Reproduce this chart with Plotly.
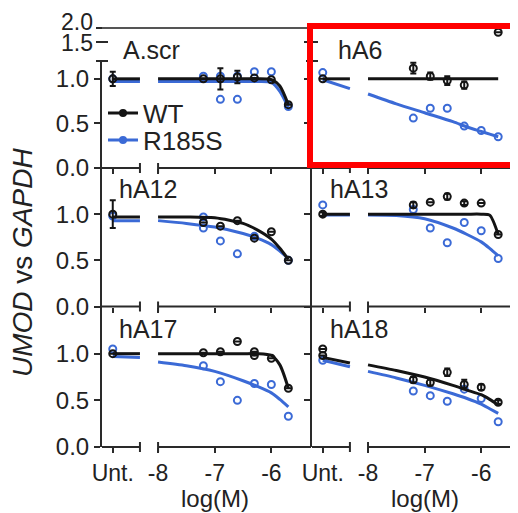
import plotly.graph_objects as go

W, H = 518, 513          # target picture size
OFF = 8                  # page body margin in front of the figure
FW, FH = W - OFF, H - OFF

# ---------------- data ----------------
PANEL_NAMES = ["A.scr", "hA6", "hA12", "hA13", "hA17", "hA18"]
CONC = [-7.2, -6.9, -6.6, -6.3, -6.0, -5.7]          # log(M) of the treatments
CURVE_X = [-8.0, -7.5, -7.0, -6.5, -6.25, -6.0, -5.85, -5.7]
X_TICK_VALS = [-8, -7, -6]
X_TICK_TEXT = ["Unt.", "-8", "-7", "-6"]
Y_TICKS = [0.0, 0.5, 1.0]
Y_TICKS_UPPER = [1.5, 2.0]
Y_TICKS_UPPER_TEXT = ["1.5", "2.0"]

# A.scr
ascr_wt_unt = [1.0]
ascr_wt_unt_err = [0.08]
ascr_wt_x = [-7.2, -6.9, -6.6, -6.3, -6.0, -5.7]
ascr_wt_y = [1.0, 1.0, 1.02, 1.01, 0.99, 0.71]
ascr_wt_err = [0.0, 0.12, 0.07, 0.0, 0.0, 0.0]
ascr_r_unt = [1.0]
ascr_r_x = [-7.2, -6.9, -6.9, -6.6, -6.6, -6.3, -6.0, -5.7]
ascr_r_y = [1.03, 1.03, 0.77, 1.03, 0.77, 1.08, 1.08, 0.69]
ascr_wt_stub = [1.0, 1.0]
ascr_wt_fit = [1.0, 1.0, 1.0, 1.0, 1.0, 0.99, 0.92, 0.71]
ascr_r_stub = [0.97, 0.97]
ascr_r_fit = [0.97, 0.97, 0.97, 0.97, 0.97, 0.96, 0.86, 0.68]

# hA6
ha6_wt_unt = [1.0]
ha6_wt_unt_err = [0.0]
ha6_wt_x = [-7.2, -6.9, -6.6, -6.3, -6.0, -5.7]
ha6_wt_y = [1.12, 1.03, 0.98, 0.93, 1.21, 1.85]
ha6_wt_err = [0.06, 0.04, 0.05, 0.04, 0.0, 0.0]
ha6_r_unt = [1.07]
ha6_r_x = [-7.2, -6.9, -6.6, -6.3, -6.0, -5.7]
ha6_r_y = [0.56, 0.67, 0.67, 0.47, 0.42, 0.35]
ha6_wt_stub = [1.0, 1.0]
ha6_wt_fit = [1.0, 1.0, 1.0, 1.0, 1.0, 1.0, 1.0, 1.0]
ha6_r_stub = [0.99, 0.89]
ha6_r_fit = [0.83, 0.72, 0.62, 0.52, 0.46, 0.41, 0.38, 0.35]

# hA12
ha12_wt_unt = [1.0]
ha12_wt_unt_err = [0.15]
ha12_wt_x = [-7.2, -6.9, -6.6, -6.3, -6.0, -5.7]
ha12_wt_y = [0.91, 0.87, 0.93, 0.74, 0.81, 0.50]
ha12_wt_err = [0.0, 0.0, 0.0, 0.0, 0.0, 0.0]
ha12_r_unt = [0.98]
ha12_r_x = [-7.2, -7.2, -6.9, -6.6, -6.3, -5.7]
ha12_r_y = [0.97, 0.85, 0.71, 0.57, 0.76, 0.50]
ha12_wt_stub = [0.97, 0.97]
ha12_wt_fit = [0.97, 0.97, 0.96, 0.90, 0.83, 0.73, 0.63, 0.51]
ha12_r_stub = [0.93, 0.93]
ha12_r_fit = [0.93, 0.90, 0.86, 0.79, 0.74, 0.67, 0.60, 0.52]

# hA13
ha13_wt_unt = [1.0]
ha13_wt_unt_err = [0.02]
ha13_wt_x = [-7.2, -6.9, -6.6, -6.3, -6.0, -5.7]
ha13_wt_y = [1.10, 1.13, 1.19, 1.12, 1.12, 0.78]
ha13_wt_err = [0.03, 0.0, 0.03, 0.02, 0.0, 0.0]
ha13_r_unt = [1.10]
ha13_r_x = [-7.2, -6.9, -6.6, -6.3, -6.0, -5.7]
ha13_r_y = [1.05, 0.85, 0.69, 0.91, 0.82, 0.52]
ha13_wt_stub = [1.0, 1.0]
ha13_wt_fit = [1.0, 1.0, 1.0, 1.0, 1.0, 1.0, 0.99, 0.78]
ha13_r_stub = [0.99, 0.99]
ha13_r_fit = [0.99, 0.985, 0.95, 0.85, 0.78, 0.70, 0.63, 0.55]

# hA17
ha17_wt_unt = [1.0]
ha17_wt_unt_err = [0.0]
ha17_wt_x = [-7.2, -6.9, -6.6, -6.3, -6.3, -6.0, -5.7]
ha17_wt_y = [1.01, 1.02, 1.13, 1.02, 0.98, 0.95, 0.63]
ha17_wt_err = [0.0, 0.0, 0.0, 0.0, 0.0, 0.0, 0.0]
ha17_r_unt = [1.05]
ha17_r_x = [-7.2, -6.9, -6.6, -6.3, -6.0, -5.7]
ha17_r_y = [0.87, 0.70, 0.50, 0.68, 0.67, 0.33]
ha17_wt_stub = [1.0, 1.0]
ha17_wt_fit = [1.0, 1.0, 1.0, 1.0, 1.0, 0.98, 0.88, 0.63]
ha17_r_stub = [0.97, 0.96]
ha17_r_fit = [0.91, 0.87, 0.81, 0.71, 0.65, 0.58, 0.51, 0.43]

# hA18
ha18_wt_unt = [1.05, 0.98]
ha18_wt_unt_err = [0.0, 0.0]
ha18_wt_x = [-7.2, -6.9, -6.6, -6.3, -6.0, -5.7]
ha18_wt_y = [0.72, 0.69, 0.80, 0.67, 0.64, 0.48]
ha18_wt_err = [0.03, 0.03, 0.04, 0.05, 0.03, 0.02]
ha18_r_unt = [0.93]
ha18_r_x = [-7.2, -6.9, -6.6, -6.3, -6.0, -5.7]
ha18_r_y = [0.60, 0.55, 0.49, 0.62, 0.52, 0.27]
ha18_wt_stub = [0.96, 0.90]
ha18_wt_fit = [0.88, 0.82, 0.75, 0.66, 0.61, 0.56, 0.51, 0.45]
ha18_r_stub = [0.93, 0.86]
ha18_r_fit = [0.81, 0.74, 0.66, 0.57, 0.52, 0.46, 0.41, 0.36]

PANELS = [
    (ascr_wt_unt, ascr_wt_unt_err, ascr_wt_x, ascr_wt_y, ascr_wt_err, ascr_r_unt, ascr_r_x, ascr_r_y,
     ascr_wt_stub, ascr_wt_fit, ascr_r_stub, ascr_r_fit),
    (ha6_wt_unt, ha6_wt_unt_err, ha6_wt_x, ha6_wt_y, ha6_wt_err, ha6_r_unt, ha6_r_x, ha6_r_y,
     ha6_wt_stub, ha6_wt_fit, ha6_r_stub, ha6_r_fit),
    (ha12_wt_unt, ha12_wt_unt_err, ha12_wt_x, ha12_wt_y, ha12_wt_err, ha12_r_unt, ha12_r_x, ha12_r_y,
     ha12_wt_stub, ha12_wt_fit, ha12_r_stub, ha12_r_fit),
    (ha13_wt_unt, ha13_wt_unt_err, ha13_wt_x, ha13_wt_y, ha13_wt_err, ha13_r_unt, ha13_r_x, ha13_r_y,
     ha13_wt_stub, ha13_wt_fit, ha13_r_stub, ha13_r_fit),
    (ha17_wt_unt, ha17_wt_unt_err, ha17_wt_x, ha17_wt_y, ha17_wt_err, ha17_r_unt, ha17_r_x, ha17_r_y,
     ha17_wt_stub, ha17_wt_fit, ha17_r_stub, ha17_r_fit),
    (ha18_wt_unt, ha18_wt_unt_err, ha18_wt_x, ha18_wt_y, ha18_wt_err, ha18_r_unt, ha18_r_x, ha18_r_y,
     ha18_wt_stub, ha18_wt_fit, ha18_r_stub, ha18_r_fit),
]

# ---------------- layout geometry ----------------
UNT_POS = -8.8          # where "Unt." sits on the broken axis
BREAK_LO = -8.32        # end of the first x segment
BREAK_HI = -8.0         # start of the second x segment
FONT = "Liberation Sans, Arial, sans-serif"
BLACK = "#141414"
BLUE = "#3b6ad6"
AXC = "#2a2a2a"
TXT = "#222222"
TICK_SIZE = 24
XTICK_SIZE = 23

def px_x(p):
    return (p - OFF) / FW

def px_y(p):
    return 1 - (p - OFF) / FH

COL_DOM = [(px_x(102), px_x(311)), (px_x(312), 1.0)]
COL_RANGE = [(-8.99, -5.30), (-8.99, -5.35)]
ROW_DOM = [(px_y(168), px_y(61)), (px_y(306.5), px_y(168)), (px_y(447), px_y(307))]
ROW_RANGE = [(0, 1.2), (0, 1.5), (0, 1.5)]
UPPER_DOM = (px_y(42), px_y(28))
UPPER_SPLIT = 1.35

fig = go.Figure()
layout = {}
shapes = []
annotations = []

for k in range(6):
    row, col = divmod(k, 2)
    ax = k + 1
    xn, yn = f"x{ax}", f"y{ax}"
    (wt_unt, wt_unt_err, wt_x, wt_y, wt_err, r_unt, r_x, r_y,
     wt_stub, wt_fit, r_stub, r_fit) = PANELS[k]

    layout[f"xaxis{ax}"] = dict(
        domain=list(COL_DOM[col]), range=list(COL_RANGE[col]), anchor=yn, automargin=False,
        showline=False, showgrid=False, zeroline=False,
        ticks="outside", ticklen=5, tickwidth=2, tickcolor=AXC,
        tickvals=[UNT_POS] + X_TICK_VALS, ticktext=X_TICK_TEXT,
        showticklabels=(row == 2), tickfont=dict(family=FONT, size=XTICK_SIZE, color=TXT),
    )
    layout[f"yaxis{ax}"] = dict(
        domain=list(ROW_DOM[row]), range=list(ROW_RANGE[row]), anchor=xn, automargin=False,
        showline=True, linewidth=2, linecolor=AXC, showgrid=False, zeroline=False,
        ticks="outside", ticklen=6, tickwidth=2, tickcolor=AXC,
        tickvals=Y_TICKS, tickformat=".1f",
        showticklabels=(col == 0), tickfont=dict(family=FONT, size=TICK_SIZE, color=TXT),
    )

    # upper (broken) y segment for the top row
    upper_name = None
    if row == 0:
        uy = 7 + col
        upper_name = f"y{uy}"
        layout[f"yaxis{uy}"] = dict(
            domain=list(UPPER_DOM), range=[1.5, 2.0], anchor=xn, automargin=False,
            showline=True, linewidth=2, linecolor=AXC, showgrid=False, zeroline=False,
            ticks="outside", ticklen=6, tickwidth=2, tickcolor=AXC,
            tickvals=Y_TICKS_UPPER, showticklabels=False,
        )
        if col == 0:
            # the two labels of the squeezed segment sit slightly apart, as in the original
            for tt, cy in zip(Y_TICKS_UPPER_TEXT, (43, 22)):
                annotations.append(dict(text=tt, xref="paper", yref="paper", x=COL_DOM[0][0] - 8 / FW,
                                        y=px_y(cy), xanchor="right", yanchor="middle", showarrow=False,
                                        borderpad=0, font=dict(family=FONT, size=23, color=TXT)))

    # fitted curves (stub before the break, gap, main segment)
    curve_x = [UNT_POS, BREAK_LO, None] + CURVE_X
    fig.add_trace(go.Scatter(x=curve_x, y=r_stub + [None] + r_fit, xaxis=xn, yaxis=yn,
                             mode="lines", line=dict(color=BLUE, width=3, shape="spline", smoothing=0.7),
                             connectgaps=False, showlegend=False, hoverinfo="skip"))
    fig.add_trace(go.Scatter(x=[UNT_POS] * len(r_unt) + r_x, y=r_unt + r_y, xaxis=xn, yaxis=yn,
                             mode="markers", cliponaxis=False,
                             marker=dict(symbol="circle-open", size=7, color=BLUE, line=dict(width=2)),
                             showlegend=False))
    fig.add_trace(go.Scatter(x=curve_x, y=wt_stub + [None] + wt_fit, xaxis=xn, yaxis=yn,
                             mode="lines", line=dict(color=BLACK, width=3, shape="spline", smoothing=0.7),
                             connectgaps=False, showlegend=False, hoverinfo="skip"))

    px_all = [UNT_POS] * len(wt_unt) + wt_x
    py_all = wt_unt + wt_y
    pe_all = wt_unt_err + wt_err
    lo = [(a, b, e) for a, b, e in zip(px_all, py_all, pe_all) if upper_name is None or b < UPPER_SPLIT]
    hi = [(a, b, e) for a, b, e in zip(px_all, py_all, pe_all) if upper_name is not None and b >= UPPER_SPLIT]
    for pts, yaxis_name in ((lo, yn), (hi, upper_name)):
        if not pts:
            continue
        fig.add_trace(go.Scatter(
            x=[p[0] for p in pts], y=[p[1] for p in pts], xaxis=xn, yaxis=yaxis_name,
            mode="markers", cliponaxis=False,
            marker=dict(symbol="circle-open", size=7, color=BLACK, line=dict(width=2)),
            error_y=dict(type="data", array=[p[2] for p in pts], color=BLACK, thickness=2, width=3),
            showlegend=False))

    # broken x-axis line: two segments with end caps
    y0p = ROW_DOM[row][0]
    cap = 5 / FH
    shapes.append(dict(type="line", xref=xn, yref="paper", x0=COL_RANGE[col][0], x1=BREAK_LO,
                       y0=y0p, y1=y0p, line=dict(color=AXC, width=2)))
    shapes.append(dict(type="line", xref=xn, yref="paper", x0=BREAK_HI, x1=COL_RANGE[col][1],
                       y0=y0p, y1=y0p, line=dict(color=AXC, width=2)))
    for bx in (BREAK_LO, BREAK_HI):
        shapes.append(dict(type="line", xref=xn, yref="paper", x0=bx, x1=bx,
                           y0=y0p - cap, y1=y0p + cap, line=dict(color=AXC, width=2)))

    # panel label
    lab_px = [(121, 50), (336, 50), (117, 189), (328, 189), (117, 329), (328, 329)][k]
    annotations.append(dict(text=PANEL_NAMES[k], xref="paper", yref="paper",
                            x=px_x(lab_px[0]), y=px_y(lab_px[1]), xanchor="left", yanchor="middle",
                            showarrow=False, font=dict(family=FONT, size=25, color=TXT)))

# y-axis break caps and top border line
for col in range(2):
    xd = COL_DOM[col][0]
    capx = 6 / FW
    for yy in (ROW_DOM[0][1], UPPER_DOM[0], UPPER_DOM[1]):
        shapes.append(dict(type="line", xref="paper", yref="paper", x0=xd - capx, x1=xd + capx,
                           y0=yy, y1=yy, line=dict(color=AXC, width=2)))
shapes.append(dict(type="line", xref="paper", yref="paper", x0=COL_DOM[0][0], x1=1.0,
                   y0=UPPER_DOM[1], y1=UPPER_DOM[1], line=dict(color="#555", width=2)))

# red highlight box around hA6
shapes.append(dict(type="rect", xref="paper", yref="paper", x0=px_x(310), x1=px_x(515),
                   y0=px_y(165), y1=px_y(26), line=dict(color="#ff0000", width=6),
                   fillcolor="rgba(0,0,0,0)"))

# axis titles
for col in range(2):
    annotations.append(dict(text="log(M)", xref=f"x{5 + col}", yref="paper", x=-7.0, y=px_y(498),
                            xanchor="center", yanchor="middle", showarrow=False, borderpad=0,
                            font=dict(family=FONT, size=24, color=TXT)))
annotations.append(dict(text="<i>UMOD</i> vs <i>GAPDH</i>", xref="paper", yref="paper",
                        x=px_x(22), y=px_y(263), textangle=-90, xanchor="center", yanchor="middle",
                        showarrow=False, font=dict(family=FONT, size=28, color=TXT)))

# legend entries (one small legend per entry so the spacing matches)
fig.add_trace(go.Scatter(x=[None], y=[None], xaxis="x1", yaxis="y1", mode="lines+markers", name="WT",
                         line=dict(color=BLACK, width=3), marker=dict(color=BLACK, size=8),
                         legend="legend"))
fig.add_trace(go.Scatter(x=[None], y=[None], xaxis="x1", yaxis="y1", mode="lines+markers", name="R185S",
                         line=dict(color=BLUE, width=3), marker=dict(color=BLUE, size=8),
                         legend="legend2"))

LEG_COMMON = dict(xanchor="left", yanchor="middle", bgcolor="rgba(0,0,0,0)", borderwidth=0,
                  font=dict(family=FONT, size=26, color=TXT), itemwidth=30)

fig.update_layout(
    width=FW, height=FH, margin=dict(l=0, r=0, t=0, b=0, pad=0, autoexpand=False),
    paper_bgcolor="white", plot_bgcolor="white",
    shapes=shapes, annotations=annotations,
    showlegend=True,
    legend=dict(x=px_x(103), y=px_y(113), **LEG_COMMON),
    legend2=dict(x=px_x(103), y=px_y(140), **LEG_COMMON),
    **layout,
)

fig.write_html("out.html")
